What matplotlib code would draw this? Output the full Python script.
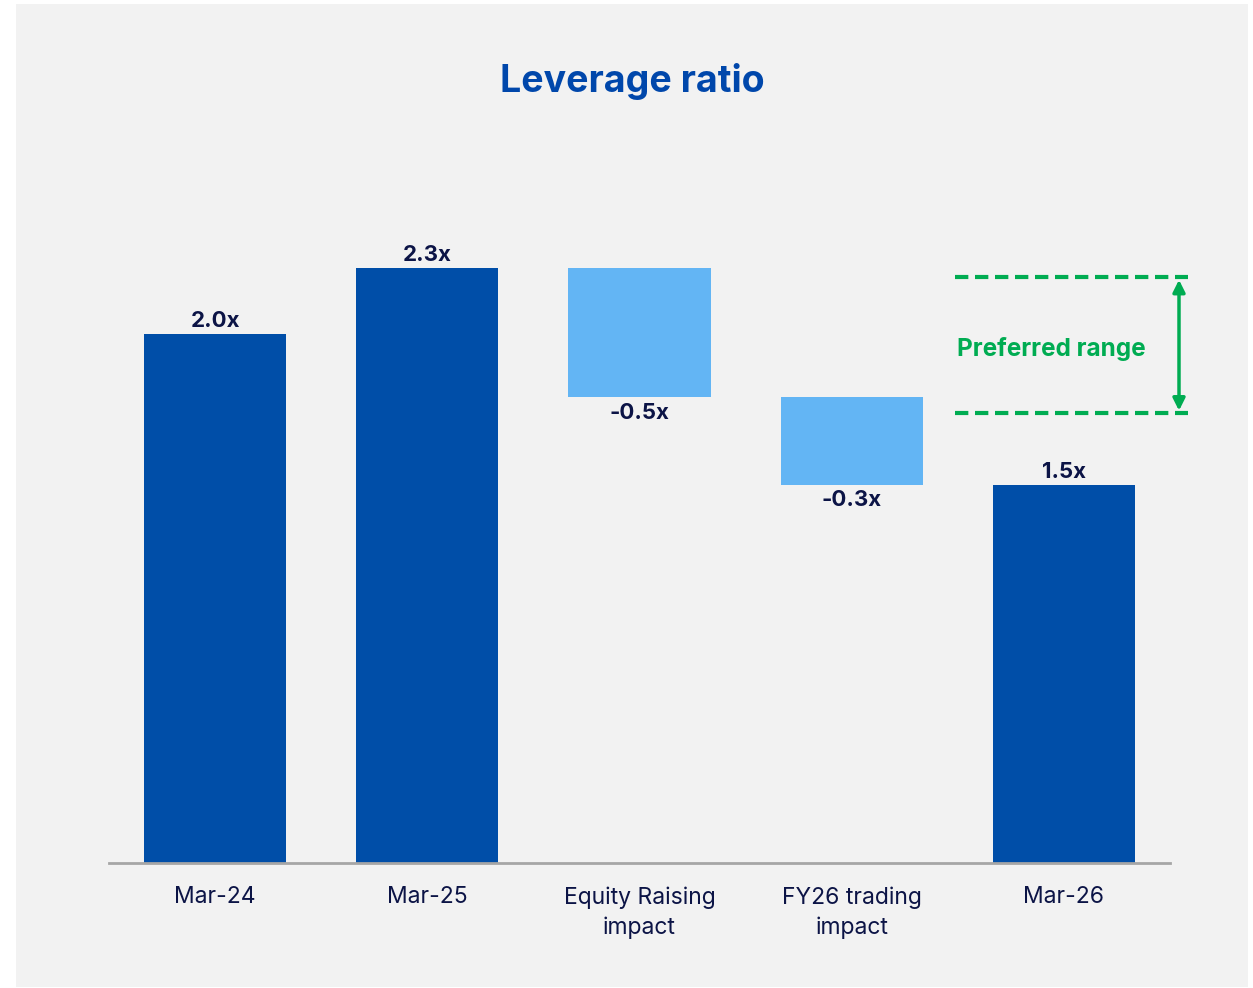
import matplotlib
matplotlib.use("Agg")
import matplotlib.pyplot as plt
from matplotlib.patches import Rectangle

plt.rcParams["font.family"] = ["Inter", "DejaVu Sans"]

# data
categories = ["Mar-24", "Mar-25", "Equity Raising\nimpact", "FY26 trading\nimpact", "Mar-26"]
values = [2.0, 2.25, -0.49, -0.33, 1.43]
is_total = [True, True, False, False, True]
value_labels = ["2.0x", "2.3x", "-0.5x", "-0.3x", "1.5x"]
pref_low, pref_high = 1.70, 2.215

DARK = "#004ea8"
LIGHT = "#63b5f4"
NAVY = "#0c1446"
GREEN = "#00ac52"
PANEL = "#f2f2f2"

W, H = 1253, 988
fig = plt.figure(figsize=(W / 100, H / 100), dpi=100)
fig.patch.set_facecolor("white")
fig.add_artist(Rectangle((16 / W, 1 / H), (1248 - 16) / W, (984 - 1) / H,
                         transform=fig.transFigure, facecolor=PANEL, edgecolor="none", zorder=-10))

# axes: baseline at y=862.5px, 264.25 px per unit
ymax = 2.5
ax_h = ymax * 264.25
ax = fig.add_axes([109 / W, (H - 862.5) / H, (1170 - 109) / W, ax_h / H])
ax.set_facecolor("none")
ax.set_xlim(-0.5, 4.5)
ax.set_ylim(0, ymax)

running = 0.0
for i, (v, tot, lab) in enumerate(zip(values, is_total, value_labels)):
    if tot:
        running = v
        ax.bar(i, v, width=0.67, color=DARK, zorder=2)
        ax.annotate(lab, (i, v), xytext=(0, 2), textcoords="offset points",
                    ha="center", va="bottom", fontsize=16, fontweight="bold", color=NAVY)
    else:
        bottom = running + v
        ax.bar(i, -v, bottom=bottom, width=0.67, color=LIGHT, zorder=2)
        ax.annotate(lab, (i, bottom), xytext=(0, -4), textcoords="offset points",
                    ha="center", va="top", fontsize=16, fontweight="bold", color=NAVY)
        running = bottom

for s in ["top", "right", "left"]:
    ax.spines[s].set_visible(False)
ax.spines["bottom"].set_color("#a6a6a6")
ax.spines["bottom"].set_linewidth(2)
ax.spines["bottom"].set_zorder(3)
ax.set_yticks([])
ax.set_xticks(range(len(categories)))
ax.set_xticklabels(categories, fontsize=16.5, color=NAVY, linespacing=1.45, va="top")
ax.tick_params(axis="x", length=0, pad=17)

# preferred range
x0 = (955 - 109) / 212.2 - 0.5
x1 = (1188 - 109) / 212.2 - 0.5
for yv in (pref_low, pref_high):
    ax.plot([x0, x1], [yv, yv], color=GREEN, lw=3, ls=(0, (3.2, 1.6)), clip_on=False, zorder=3)
xa = (1179 - 109) / 212.2 - 0.5
ax.annotate("", xy=(xa, pref_high - 0.01), xytext=(xa, pref_low + 0.01),
            arrowprops=dict(arrowstyle="<|-|>", color=GREEN, lw=2.5, mutation_scale=18,
                            shrinkA=0, shrinkB=0), annotation_clip=False)
ax.text((957 - 109) / 212.2 - 0.5, (pref_low + pref_high) / 2 - 0.015, "Preferred range",
        ha="left", va="center", fontsize=17.5, fontweight="bold", color=GREEN)

fig.text(632 / W, 1 - 82 / H, "Leverage ratio", ha="center", va="center",
         fontsize=27, fontweight="bold", color="#0047ab")

fig.savefig("out.png", dpi=100)
